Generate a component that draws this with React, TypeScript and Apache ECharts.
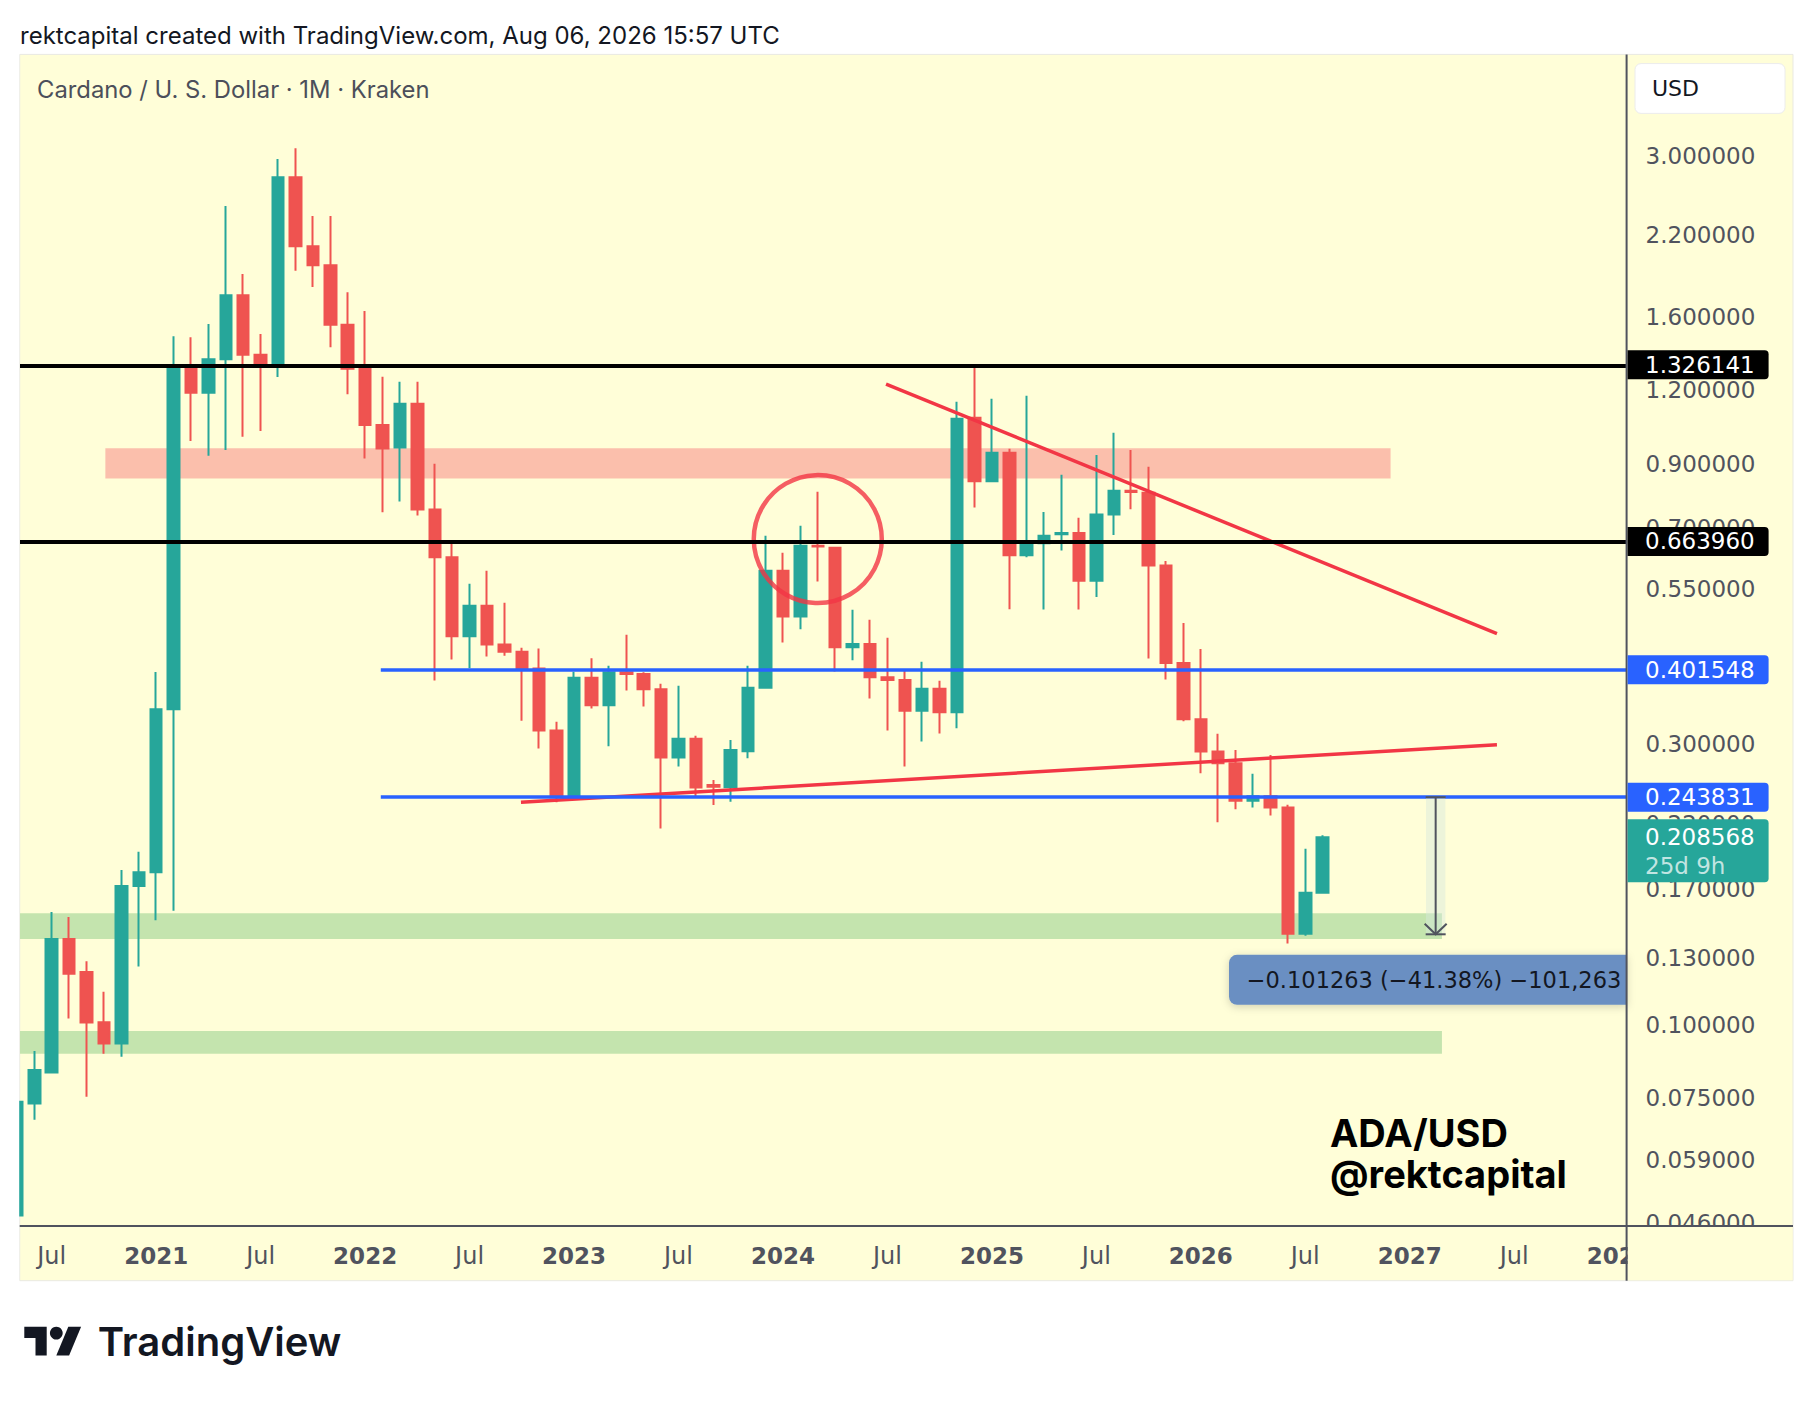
import React, { useEffect, useRef } from 'react';
import * as echarts from 'echarts';

const W = 1814;
const H = 1402;

// ---------- data (monthly candles, Kraken ADA/USD) ----------
const dates = [
  '2020-05', '2020-06', '2020-07', '2020-08', '2020-09', '2020-10', '2020-11', '2020-12',
  '2021-01', '2021-02', '2021-03', '2021-04', '2021-05', '2021-06', '2021-07', '2021-08', '2021-09', '2021-10', '2021-11', '2021-12',
  '2022-01', '2022-02', '2022-03', '2022-04', '2022-05', '2022-06', '2022-07', '2022-08', '2022-09', '2022-10', '2022-11', '2022-12',
  '2023-01', '2023-02', '2023-03', '2023-04', '2023-05', '2023-06', '2023-07', '2023-08', '2023-09', '2023-10', '2023-11', '2023-12',
  '2024-01', '2024-02', '2024-03', '2024-04', '2024-05', '2024-06', '2024-07', '2024-08', '2024-09', '2024-10', '2024-11', '2024-12',
  '2025-01', '2025-02', '2025-03', '2025-04', '2025-05', '2025-06', '2025-07', '2025-08', '2025-09', '2025-10', '2025-11', '2025-12',
  '2026-01', '2026-02', '2026-03', '2026-04', '2026-05', '2026-06', '2026-07', '2026-08',
];

const opens = [
  0.0474, 0.0735, 0.0830, 0.1400, 0.1230, 0.1010, 0.0930, 0.1723,
  0.1818, 0.3440, 1.3147, 1.1880, 1.3550, 1.7410, 1.3790, 1.3147, 2.7640, 2.1080, 1.9580, 1.5507,
  1.3050, 1.0470, 0.9590, 1.1380, 0.7526, 0.6237, 0.4578, 0.5161, 0.4436, 0.4311, 0.4038, 0.3168,
  0.2437, 0.3893, 0.3494, 0.3976, 0.3950, 0.3720, 0.2850, 0.3066, 0.2558, 0.2535, 0.2918, 0.3744,
  0.5920, 0.4950, 0.6528, 0.6477, 0.4385, 0.4442, 0.3900, 0.3858, 0.3422, 0.3729, 0.3400, 1.0776,
  0.8400, 0.9396, 0.6286, 0.6590, 0.6830, 0.6860, 0.5690, 0.7374, 0.8092, 0.8032, 0.6041, 0.4123,
  0.3308, 0.2917, 0.2785, 0.2404, 0.2448, 0.2343, 0.1429, 0.1678,
];

const highs = [
  0.0790, 0.0903, 0.1555, 0.1526, 0.1283, 0.1139, 0.1833, 0.1969,
  0.3980, 1.4826, 1.4760, 1.5550, 2.4690, 1.8910, 1.4956, 2.9670, 3.0940, 2.3740, 2.3740, 1.7617,
  1.6360, 1.2650, 1.2410, 1.2410, 0.9000, 0.6657, 0.5625, 0.5919, 0.5222, 0.4379, 0.4365, 0.3277,
  0.3986, 0.4200, 0.4080, 0.4607, 0.3976, 0.3803, 0.3773, 0.3102, 0.2609, 0.3051, 0.4080, 0.6790,
  0.6352, 0.7060, 0.8066, 0.6500, 0.5080, 0.4886, 0.4553, 0.4001, 0.4145, 0.3848, 1.1470, 1.3210,
  1.1610, 0.9544, 1.1746, 0.7450, 0.8617, 0.7286, 0.9316, 1.0163, 0.9500, 0.8893, 0.6151, 0.4826,
  0.4358, 0.3125, 0.2934, 0.2674, 0.2878, 0.2368, 0.1993, 0.2101,
];

const lows = [
  0.0440, 0.0690, 0.0828, 0.1025, 0.0755, 0.0893, 0.0883, 0.1257,
  0.1506, 0.1563, 0.9840, 0.9287, 0.9500, 1.0000, 1.0233, 1.2640, 1.9160, 1.7980, 1.4197, 1.1810,
  0.9190, 0.7440, 0.7765, 0.7350, 0.3853, 0.4183, 0.4039, 0.4232, 0.4243, 0.3290, 0.2952, 0.2390,
  0.2430, 0.3453, 0.2976, 0.3705, 0.3480, 0.2158, 0.2751, 0.2450, 0.2366, 0.2396, 0.2840, 0.3740,
  0.4470, 0.4705, 0.5677, 0.3991, 0.4167, 0.3590, 0.3168, 0.2751, 0.3034, 0.3131, 0.3193, 0.7585,
  0.8370, 0.5088, 0.6237, 0.5085, 0.6405, 0.5085, 0.5343, 0.6810, 0.7530, 0.4198, 0.3866, 0.3283,
  0.2678, 0.2211, 0.2326, 0.2343, 0.2271, 0.1375, 0.1417, 0.1675,
];

const closes = [
  0.0740, 0.0838, 0.1400, 0.1222, 0.1009, 0.0930, 0.1723, 0.1818,
  0.3440, 1.3147, 1.1880, 1.3550, 1.7410, 1.3790, 1.3147, 2.7640, 2.1080, 1.9580, 1.5507, 1.3050,
  1.0470, 0.9556, 1.1380, 0.7526, 0.6237, 0.4578, 0.5161, 0.4436, 0.4311, 0.4038, 0.3168, 0.2437,
  0.3893, 0.3494, 0.3976, 0.3950, 0.3720, 0.2850, 0.3066, 0.2534, 0.2541, 0.2934, 0.3744, 0.5920,
  0.4950, 0.6528, 0.6510, 0.4385, 0.4442, 0.3899, 0.3858, 0.3422, 0.3729, 0.3400, 1.0734, 0.8400,
  0.9396, 0.6286, 0.6605, 0.6790, 0.6860, 0.5690, 0.7374, 0.8092, 0.8060, 0.6041, 0.4123, 0.3308,
  0.2917, 0.2785, 0.2404, 0.2448, 0.2343, 0.1429, 0.1678, 0.208568,
];

// price axis ticks (log scale)
const yTicks = [3.0, 2.2, 1.6, 1.2, 0.9, 0.7, 0.55, 0.3, 0.22, 0.17, 0.13, 0.1, 0.075, 0.059, 0.046];

// time axis ticks
const xTickDates = [
  '2020-07', '2021-01', '2021-07', '2022-01', '2022-07', '2023-01', '2023-07', '2024-01',
  '2024-07', '2025-01', '2025-07', '2026-01', '2026-07', '2027-01', '2027-07', '2028-01',
];
const xTickLabels = [
  'Jul', '2021', 'Jul', '2022', 'Jul', '2023', 'Jul', '2024',
  'Jul', '2025', 'Jul', '2026', 'Jul', '2027', 'Jul', '2028',
];

// horizontal levels
const blackLevels = [1.326141, 0.66396];
const blueLevels = [0.401548, 0.243831];
const blueStart = 12.9; // month position where blue levels begin (≈ Feb 2022)
const lastPrice = 0.208568;
const countdown = '25d 9h';

// zones [fromMonth, toMonth, priceTop, priceBottom]
const salmonZone = [-2.92, 70.9, 0.956, 0.849];
const greenZoneA = [-7.823, 73.85, 0.1548, 0.140];
const greenZoneB = [-7.823, 73.85, 0.0976, 0.0893];

// trendlines [[month, price], [month, price]]
const trendDown = [[41.92, 1.2296], [77.01, 0.4629]];
const trendUp = [[20.95, 0.239], [77.01, 0.2995]];

// circle highlight [month, price]
const circleAt = [38.0, 0.67];

// measurement [month, fromPrice, toPrice]
const measure = [73.49, 0.243831, 0.142568];
const measureText = '\u22120.101263 (\u221241.38%) \u2212101,263';

// ---------- layout ----------
const GRID_L = 20;
const GRID_T = 54.4;
const GRID_R = 1626.6;
const GRID_B = 1226;
const PANEL_R = 1793;
const PANEL_B = 1280.7;
const X_MIN = -7.823;
const X_MAX = 84.457;
const Y_MIN = -3.0901;
const Y_MAX = 1.4973;

const BG = '#fffed8';
const UP = '#26a69a';
const DOWN = '#ef5350';
const RED = '#f23645';
const BLUE = '#2962ff';
const AXIS_TXT = '#50535e';
const NUM_FONT = 'DejaVu Sans';
const UI_FONT = 'Inter';

const toM = (d: string) => {
  const [y, mo] = d.split('-').map(Number);
  return (y - 2021) * 12 + (mo - 1);
};
const L = Math.log;

function buildOption() {
  const candles = dates.map((d, i) => [toM(d), L(opens[i]), L(closes[i]), L(lows[i]), L(highs[i])]);
  const zone = (z: number[], color: string) => [
    { coord: [z[0], L(z[2])], itemStyle: { color } },
    { coord: [z[1], L(z[3])] },
  ];
  const markLineData: any[] = [];
  blackLevels.forEach((v) => {
    markLineData.push({ yAxis: L(v), lineStyle: { color: '#000000', width: 4, type: 'solid' } });
  });
  blueLevels.forEach((v) => {
    markLineData.push([
      { coord: [blueStart, L(v)], lineStyle: { color: BLUE, width: 3.5, type: 'solid' } },
      { coord: [X_MAX, L(v)] },
    ]);
  });

  return {
    animation: false,
    backgroundColor: '#ffffff',
    tooltip: { show: false },
    grid: {
      left: GRID_L,
      top: GRID_T,
      right: W - GRID_R,
      bottom: H - GRID_B,
      containLabel: false,
    },
    xAxis: {
      type: 'value',
      min: X_MIN,
      max: X_MAX,
      splitLine: { show: false },
      axisLine: { show: false },
      axisTick: { show: false },
      axisLabel: {
        customValues: xTickDates.map(toM),
        margin: 18,
        formatter: (v: number) => {
          const idx = xTickDates.map(toM).indexOf(Math.round(v));
          const t = idx >= 0 ? xTickLabels[idx] : '';
          return t === 'Jul' ? `{m|${t}}` : `{y|${t}}`;
        },
        rich: {
          m: { fontSize: 24, fontFamily: NUM_FONT, color: AXIS_TXT },
          y: { fontSize: 23, fontFamily: NUM_FONT, fontWeight: 'bold', color: AXIS_TXT },
        },
      },
    },
    yAxis: {
      type: 'value',
      position: 'right',
      min: Y_MIN,
      max: Y_MAX,
      scale: true,
      splitLine: { show: false },
      axisLine: { show: false },
      axisTick: { show: false },
      axisLabel: {
        customValues: yTicks.map(L),
        margin: 19,
        align: 'left',
        fontSize: 23,
        fontFamily: NUM_FONT,
        color: AXIS_TXT,
        formatter: (v: number) => Math.exp(v).toFixed(6),
      },
    },
    series: [
      {
        type: 'candlestick',
        name: 'ADA/USD',
        data: candles,
        encode: { x: 0, y: [1, 2, 3, 4] },
        barWidth: 12,
        silent: true,
        itemStyle: {
          color: UP,
          color0: DOWN,
          borderColor: UP,
          borderColor0: DOWN,
          borderWidth: 2,
        },
        markArea: {
          silent: true,
          data: [
            zone(salmonZone, '#fbbfac'),
            zone(greenZoneA, '#c4e4ae'),
            zone(greenZoneB, '#c4e4ae'),
          ],
        },
        markLine: {
          silent: true,
          symbol: ['none', 'none'],
          label: { show: false },
          emphasis: { disabled: true },
          data: markLineData,
        },
      },
      {
        type: 'line',
        data: trendDown.map((p) => [p[0], L(p[1])]),
        showSymbol: false,
        silent: true,
        z: 3,
        lineStyle: { color: RED, width: 3.5 },
      },
      {
        type: 'line',
        data: trendUp.map((p) => [p[0], L(p[1])]),
        showSymbol: false,
        silent: true,
        z: 3,
        lineStyle: { color: RED, width: 3.5 },
      },
      {
        type: 'scatter',
        data: [[circleAt[0], L(circleAt[1])]],
        symbol: 'circle',
        symbolSize: 128,
        silent: true,
        z: 4,
        itemStyle: { color: 'rgba(0,0,0,0)', borderColor: RED, borderWidth: 4.5 },
      },
    ],
  };
}

function txt(x: number, y: number, text: string, o: any = {}, z = 20) {
  return {
    type: 'text',
    x,
    y,
    z,
    silent: true,
    style: {
      text,
      fill: o.fill || '#131722',
      fontSize: o.fontSize || 22,
      fontFamily: o.fontFamily || UI_FONT,
      fontWeight: o.fontWeight || 'normal',
      align: o.align || 'left',
      textAlign: o.align || 'left',
      verticalAlign: 'middle',
      textVerticalAlign: 'middle',
    },
  };
}

function buildGraphics(px: (m: number, p: number) => number[]) {
  const els: any[] = [];
  // panel background
  els.push({
    type: 'rect', z: -10, silent: true,
    shape: { x: 19.7, y: GRID_T, width: PANEL_R - 19.7, height: PANEL_B - GRID_T },
    style: { fill: BG, stroke: '#e9e9e2', lineWidth: 1 },
  });
  // header texts
  els.push(txt(20, 35, 'rektcapital created with TradingView.com, Aug 06, 2026 15:57 UTC', { fontSize: 24 }, 10));
  els.push(txt(37, 89.7, 'Cardano / U. S. Dollar \u00b7 1M \u00b7 Kraken', { fontSize: 23.8, fill: '#4c4f5a' }, 10));
  // USD box
  els.push({
    type: 'rect', z: 60, silent: true,
    shape: { x: 1635, y: 63.6, width: 150, height: 49.8, r: 6 },
    style: { fill: '#ffffff', stroke: '#ececec', lineWidth: 1 },
  });
  els.push(txt(1652, 88.5, 'USD', { fontSize: 22, fontFamily: NUM_FONT }, 61));

  // covers outside plot (left margin, bottom-right corner)
  els.push({
    type: 'rect', z: 55, silent: true,
    shape: { x: 0, y: GRID_T - 1, width: 19.2, height: PANEL_B - GRID_T + 2 },
    style: { fill: '#ffffff' },
  });
  els.push({
    type: 'rect', z: 55, silent: true,
    shape: { x: GRID_R + 1, y: GRID_B + 1, width: PANEL_R - GRID_R - 1.5, height: PANEL_B - GRID_B - 1.5 },
    style: { fill: BG },
  });
  // separators
  els.push({
    type: 'line', z: 56, silent: true,
    shape: { x1: GRID_R, y1: GRID_T, x2: GRID_R, y2: PANEL_B },
    style: { stroke: '#50535e', lineWidth: 2 },
  });
  els.push({
    type: 'line', z: 56, silent: true,
    shape: { x1: 19.7, y1: GRID_B, x2: PANEL_R, y2: GRID_B },
    style: { stroke: '#50535e', lineWidth: 2 },
  });

  // price labels
  const priceLabel = (v: number, color: string) => {
    const y = px(0, v)[1];
    els.push({
      type: 'rect', z: 60, silent: true,
      shape: { x: GRID_R + 1, y: y - 14.5, width: 141, height: 29, r: [0, 4, 4, 0] },
      style: { fill: color },
    });
    els.push(txt(1645, y, v.toFixed(6), { fontSize: 23, fontFamily: NUM_FONT, fill: '#ffffff' }, 61));
  };
  blackLevels.forEach((v) => priceLabel(v, '#000000'));
  blueLevels.forEach((v) => priceLabel(v, BLUE));
  {
    const y = px(0, lastPrice)[1];
    els.push({
      type: 'rect', z: 60, silent: true,
      shape: { x: GRID_R + 1, y: y - 18, width: 141, height: 63, r: [0, 4, 4, 0] },
      style: { fill: UP },
    });
    els.push(txt(1645, y, lastPrice.toFixed(6), { fontSize: 23, fontFamily: NUM_FONT, fill: '#ffffff' }, 61));
    els.push(txt(1645, y + 28.5, countdown, { fontSize: 23, fontFamily: NUM_FONT, fill: 'rgba(255,255,255,0.72)' }, 61));
  }

  // measurement tool
  const [ax, aTop] = px(measure[0], measure[1]);
  const aBot = px(measure[0], measure[2])[1];
  els.push({
    type: 'rect', z: 8, silent: true,
    shape: { x: ax - 9.7, y: aTop, width: 19.4, height: aBot - aTop },
    style: { fill: 'rgba(215,232,222,0.45)' },
  });
  els.push({ type: 'line', z: 9, silent: true, shape: { x1: ax, y1: aTop, x2: ax, y2: aBot }, style: { stroke: '#50535e', lineWidth: 2 } });
  els.push({ type: 'line', z: 9, silent: true, shape: { x1: ax - 10, y1: aTop, x2: ax + 10, y2: aTop }, style: { stroke: '#50535e', lineWidth: 2 } });
  els.push({ type: 'line', z: 9, silent: true, shape: { x1: ax - 10, y1: aBot, x2: ax + 10, y2: aBot }, style: { stroke: '#50535e', lineWidth: 2 } });
  els.push({
    type: 'polyline', z: 9, silent: true,
    shape: { points: [[ax - 11, aBot - 10.5], [ax, aBot], [ax + 11, aBot - 10.5]] },
    style: { stroke: '#50535e', lineWidth: 2, fill: 'none' },
  });
  const boxLeft = 1229;
  els.push({
    type: 'rect', z: 20, silent: true,
    shape: { x: boxLeft, y: aBot + 20.5, width: GRID_R - boxLeft, height: 50, r: [8, 0, 0, 8] },
    style: { fill: '#6a8fc2', shadowBlur: 8, shadowColor: 'rgba(0,0,0,0.18)', shadowOffsetY: 2 },
  });
  els.push(txt(boxLeft + 17.7, aBot + 45.5, measureText, { fontSize: 22.5, fontFamily: NUM_FONT, fill: '#131722' }, 21));

  // watermark
  els.push(txt(1330, 1133, 'ADA/USD', { fontSize: 38, fontWeight: 'bold', fill: '#000000' }, 12));
  els.push(txt(1330, 1174, '@rektcapital', { fontSize: 38, fontWeight: 'bold', fill: '#000000' }, 12));

  // TradingView logo
  const s = 1.6, ox = 24.3, oy = 1320.3;
  const P = (pts: number[][]) => pts.map(([x, y]) => [ox + x * s, oy + y * s]);
  els.push({
    type: 'polygon', z: 10, silent: true,
    shape: { points: P([[0, 4], [14, 4], [14, 22], [7, 22], [7, 11], [0, 11]]) },
    style: { fill: '#131722' },
  });
  els.push({
    type: 'polygon', z: 10, silent: true,
    shape: { points: P([[20, 22], [27.5, 4], [35.5, 4], [28, 22]]) },
    style: { fill: '#131722' },
  });
  els.push({
    type: 'circle', z: 10, silent: true,
    shape: { cx: ox + 20 * s, cy: oy + 8 * s, r: 4 * s },
    style: { fill: '#131722' },
  });
  els.push(txt(97.7, 1341, 'TradingView', { fontSize: 40, fontWeight: 600, fill: '#131722' }, 10));
  return els;
}

export default function App() {
  const ref = useRef<HTMLDivElement>(null);
  useEffect(() => {
    const el = ref.current;
    if (!el) return;
    const chart = echarts.init(el, undefined, { renderer: 'svg', width: W, height: H });
    chart.setOption(buildOption() as any);
    const px = (m: number, p: number) =>
      chart.convertToPixel({ xAxisIndex: 0, yAxisIndex: 0 } as any, [m, Math.log(p)]) as unknown as number[];
    chart.setOption({ graphic: buildGraphics(px) } as any);
    return () => chart.dispose();
  }, []);
  return (
    <div
      ref={ref}
      style={{ position: 'absolute', left: 0, top: 0, width: W, height: H, background: '#ffffff' }}
    />
  );
}
